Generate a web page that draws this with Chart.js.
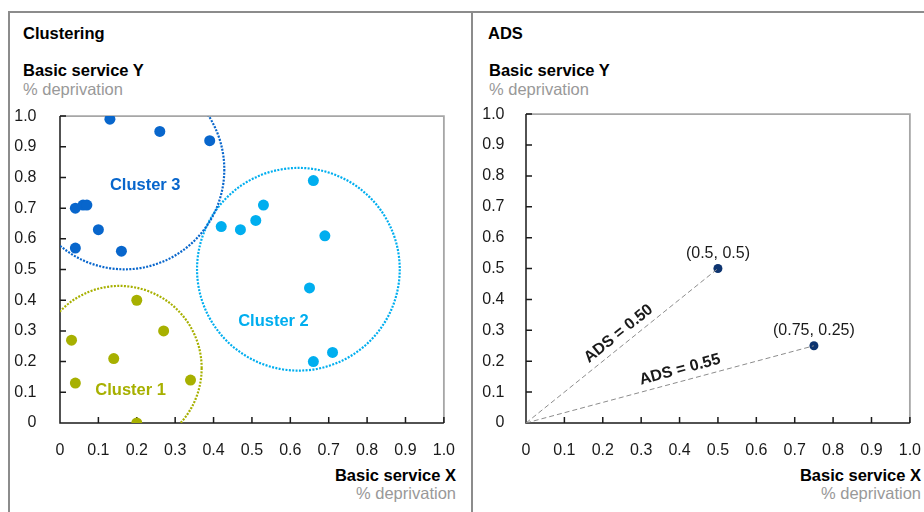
<!DOCTYPE html>
<html>
<head>
<meta charset="utf-8">
<title>Clustering and ADS</title>
<script src="https://cdn.jsdelivr.net/npm/chart.js@4.4.0/dist/chart.umd.min.js"></script>
<style>
    html, body { margin: 0; padding: 0; background: #fff; }
    body {
        width: 924px; height: 512px; position: relative; overflow: hidden;
        font-family: "Liberation Sans", Arial, sans-serif;
    }
    .frame { position: absolute; border-color: #8c8c8c; border-style: solid; }
    .txt { position: absolute; white-space: nowrap; }
    .title { font-weight: bold; font-size: 16.5px; line-height: 16.5px; color: #000; }
    .axis-name { font-weight: bold; font-size: 16.5px; line-height: 16.5px; color: #000; }
    .axis-unit { font-size: 16.5px; line-height: 16.5px; color: #999; }
    .right-align { text-align: right; }
    canvas { position: absolute; }
</style>
</head>
<body>
<div class="frame" style="left:8px; top:11px; width:460.7px; height:520px; border-width:2px 2px 0 2px;"></div>
<div class="frame" style="left:472px; top:11px; width:460px; height:0; border-width:2px 0 0 0;"></div>

<div class="txt title" style="left:23px; top:24.5px;">Clustering</div>
<div class="txt axis-name" style="left:23px; top:61.5px;">Basic service Y</div>
<div class="txt axis-unit" style="left:23px; top:81px;">% deprivation</div>
<div class="txt axis-name right-align" style="right:468px; top:467px;">Basic service X</div>
<div class="txt axis-unit right-align" style="right:468px; top:484.5px;">% deprivation</div>

<div class="txt title" style="left:488px; top:24.5px;">ADS</div>
<div class="txt axis-name" style="left:489px; top:61.5px;">Basic service Y</div>
<div class="txt axis-unit" style="left:489px; top:81px;">% deprivation</div>
<div class="txt axis-name right-align" style="right:3px; top:467px;">Basic service X</div>
<div class="txt axis-unit right-align" style="right:3px; top:484.5px;">% deprivation</div>

<canvas id="cluster-chart" width="455" height="379" style="left:10px; top:91px;"></canvas>
<canvas id="ads-chart" width="455" height="379" style="left:476px; top:91px;"></canvas>

<script>
// ---- data ----
const tickValues = [0, 0.1, 0.2, 0.3, 0.4, 0.5, 0.6, 0.7, 0.8, 0.9, 1.0];
const tickLabels = ['0', '0.1', '0.2', '0.3', '0.4', '0.5', '0.6', '0.7', '0.8', '0.9', '1.0'];

const clusterNames = ['Cluster 1', 'Cluster 2', 'Cluster 3'];

const cluster1X = [0.20, 0.27, 0.03, 0.14, 0.04, 0.34, 0.20];
const cluster1Y = [0.40, 0.30, 0.27, 0.21, 0.13, 0.14, 0.00];

const cluster2X = [0.42, 0.47, 0.51, 0.53, 0.66, 0.69, 0.65, 0.71, 0.66];
const cluster2Y = [0.64, 0.63, 0.66, 0.71, 0.79, 0.61, 0.44, 0.23, 0.20];

const cluster3X = [0.13, 0.26, 0.39, 0.04, 0.06, 0.07, 0.10, 0.04, 0.16];
const cluster3Y = [0.99, 0.95, 0.92, 0.70, 0.71, 0.71, 0.63, 0.57, 0.56];

// dotted rings round each cluster (centre in data units, radius in x units)
const ringCenterX = [0.155, 0.621, 0.168];
const ringCenterY = [0.179, 0.501, 0.826];
const ringRadius = [0.214, 0.264, 0.260];

// where each cluster name sits
const clusterLabelX = [0.184, 0.556, 0.222];
const clusterLabelY = [0.106, 0.332, 0.774];

const adsPointX = [0.5, 0.75];
const adsPointY = [0.5, 0.25];
const adsScores = [0.50, 0.55];

// ---- styles ----
const FONT = '"Liberation Sans", Arial, sans-serif';
const clusterColors = ['#a7b000', '#00aeef', '#0866cc'];
const NAVY = '#0d3470';
const TEXT = '#1a1a1a';

const toPoints = (xs, ys) => xs.map((x, i) => ({ x: x, y: ys[i] }));

function axisScale(padding, fitSize, isX) {
    return {
        type: 'linear',
        min: 0,
        max: 1,
        grid: { display: false },
        border: { display: false },
        afterBuildTicks: (scale) => {
            scale.ticks = tickValues.map(v => ({ value: v }));
        },
        ticks: {
            padding: padding,
            color: TEXT,
            autoSkip: false,
            maxRotation: 0,
            font: { family: FONT, size: 16 },
            callback: (value, index) => tickLabels[index]
        },
        afterFit: (scale) => {
            if (isX) scale.height = fitSize;
            else scale.width = fitSize;
        }
    };
}

// plot frame: black left/bottom axes with inward ticks, grey top/right edges
const axisFrame = {
    id: 'axisFrame',
    beforeDatasetsDraw(chart) {
        const { ctx, chartArea, scales } = chart;
        const { left, right, top, bottom } = chartArea;
        ctx.save();
        ctx.lineWidth = 1.8;
        ctx.strokeStyle = '#a6a6a6';
        ctx.beginPath();
        ctx.moveTo(left, top);
        ctx.lineTo(right, top);
        ctx.lineTo(right, bottom);
        ctx.stroke();

        ctx.lineWidth = 1.5;
        ctx.strokeStyle = '#1a1a1a';
        ctx.beginPath();
        ctx.moveTo(left, top);
        ctx.lineTo(left, bottom);
        ctx.lineTo(right, bottom);
        tickValues.forEach(v => {
            const px = scales.x.getPixelForValue(v);
            ctx.moveTo(px, bottom);
            ctx.lineTo(px, bottom - 6);
            const py = scales.y.getPixelForValue(v);
            ctx.moveTo(left, py);
            ctx.lineTo(left + 6, py);
        });
        ctx.stroke();
        ctx.restore();
    }
};

const clusterRings = {
    id: 'clusterRings',
    beforeDatasetsDraw(chart) {
        const { ctx, chartArea, scales: { x, y } } = chart;
        ctx.save();
        ctx.beginPath();
        ctx.rect(chartArea.left, chartArea.top, chartArea.width, chartArea.height);
        ctx.clip();
        ctx.lineWidth = 2.2;
        ctx.setLineDash([2, 1.4]);
        ringCenterX.forEach((cx, i) => {
            const px = x.getPixelForValue(cx);
            const py = y.getPixelForValue(ringCenterY[i]);
            const r = x.getPixelForValue(ringRadius[i]) - x.getPixelForValue(0);
            ctx.strokeStyle = clusterColors[i];
            ctx.beginPath();
            ctx.arc(px, py, r, 0, Math.PI * 2);
            ctx.stroke();
        });
        ctx.restore();
    }
};

const clusterNameLabels = {
    id: 'clusterNameLabels',
    afterDatasetsDraw(chart) {
        const { ctx, scales: { x, y } } = chart;
        ctx.save();
        ctx.font = 'bold 16.5px ' + FONT;
        ctx.textAlign = 'center';
        ctx.textBaseline = 'middle';
        clusterNames.forEach((name, i) => {
            ctx.fillStyle = clusterColors[i];
            ctx.fillText(name, x.getPixelForValue(clusterLabelX[i]), y.getPixelForValue(clusterLabelY[i]));
        });
        ctx.restore();
    }
};

const adsLabels = {
    id: 'adsLabels',
    afterDatasetsDraw(chart) {
        const { ctx, scales: { x, y } } = chart;
        const x0 = x.getPixelForValue(0);
        const y0 = y.getPixelForValue(0);
        const along = [0.52, 0.545];
        ctx.save();
        ctx.fillStyle = TEXT;
        ctx.textAlign = 'center';
        ctx.textBaseline = 'middle';
        adsPointX.forEach((vx, i) => {
            const px = x.getPixelForValue(vx);
            const py = y.getPixelForValue(adsPointY[i]);

            ctx.font = '16px ' + FONT;
            ctx.fillText('(' + vx + ', ' + adsPointY[i] + ')', px, py - 15);

            const ang = Math.atan2(py - y0, px - x0);
            const mx = x0 + (px - x0) * along[i];
            const my = y0 + (py - y0) * along[i];
            ctx.save();
            ctx.translate(mx + Math.sin(ang) * 11.5, my - Math.cos(ang) * 11.5);
            ctx.rotate(ang);
            ctx.font = 'bold 16px ' + FONT;
            ctx.fillText('ADS = ' + adsScores[i].toFixed(2), 0, 0);
            ctx.restore();
        });
        ctx.restore();
    }
};

// ---- clustering chart ----
new Chart(document.getElementById('cluster-chart'), {
    type: 'scatter',
    data: {
        datasets: [
            { label: clusterNames[0], data: toPoints(cluster1X, cluster1Y), backgroundColor: clusterColors[0] },
            { label: clusterNames[1], data: toPoints(cluster2X, cluster2Y), backgroundColor: clusterColors[1] },
            { label: clusterNames[2], data: toPoints(cluster3X, cluster3Y), backgroundColor: clusterColors[2] }
        ]
    },
    options: {
        responsive: false,
        animation: false,
        layout: { padding: { top: 0, right: 4, left: 0, bottom: 0 } },
        elements: { point: { radius: 5.5, borderWidth: 0, hoverRadius: 5.5 } },
        plugins: { legend: { display: false }, tooltip: { enabled: false } },
        scales: {
            x: axisScale(10, 47, true),
            y: axisScale(15.5, 50, false)
        }
    },
    plugins: [axisFrame, clusterRings, clusterNameLabels]
});

// ---- ADS chart ----
const adsLines = adsPointX.map((vx, i) => ({
    data: [{ x: 0, y: 0 }, { x: vx, y: adsPointY[i] }],
    showLine: true,
    borderColor: '#8c8c8c',
    borderWidth: 1,
    borderDash: [5, 3],
    pointRadius: 0
}));

new Chart(document.getElementById('ads-chart'), {
    type: 'scatter',
    data: {
        datasets: [
            ...adsLines,
            { data: toPoints(adsPointX, adsPointY), backgroundColor: NAVY, pointRadius: 4.5, borderWidth: 0 }
        ]
    },
    options: {
        responsive: false,
        animation: false,
        layout: { padding: { top: 0, right: 3.5, left: 0, bottom: 0 } },
        plugins: { legend: { display: false }, tooltip: { enabled: false } },
        scales: {
            x: axisScale(10, 47, true),
            y: axisScale(13.5, 50, false)
        }
    },
    plugins: [axisFrame, adsLabels]
});
</script>
</body>
</html>
